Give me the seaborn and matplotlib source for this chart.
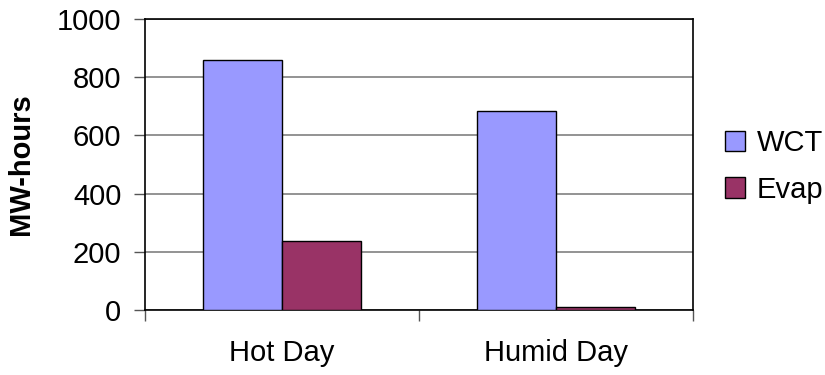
import matplotlib
matplotlib.use("Agg")
import matplotlib.pyplot as plt
import seaborn as sns
import pandas as pd
from matplotlib.patches import Patch

# Energy lost per scenario, in MW-hours
days = ["Hot Day", "Humid Day"]
wct = [860, 683]
evap = [238, 10]
series = ["WCT", "Evap"]
colors = {"WCT": "#9999FF", "Evap": "#993366"}
y_ticks = [0, 200, 400, 600, 800, 1000]

df = pd.DataFrame({
    "day": days * 2,
    "series": ["WCT"] * len(days) + ["Evap"] * len(days),
    "value": wct + evap,
})

sns.set_style("white")
plt.rcParams["font.family"] = ["Liberation Sans", "DejaVu Sans"]
plt.rcParams["text.color"] = "black"
plt.rcParams["axes.labelcolor"] = "black"
plt.rcParams["xtick.color"] = "black"
plt.rcParams["ytick.color"] = "black"

FS = 21

fig = plt.figure(figsize=(8.25, 3.75), dpi=100)
ax = fig.add_axes([145 / 825, 1 - 310 / 375, (693 - 145) / 825, (310 - 19) / 375])

sns.barplot(data=df, x="day", y="value", hue="series", order=days,
            hue_order=series, palette=colors, width=0.575,
            edgecolor="black", linewidth=1, saturation=1,
            legend=False, ax=ax, zorder=3)

ax.set_xlim(-0.5, len(days) - 0.5)
ax.set_ylim(0, 1000)
ax.set_yticks(y_ticks)
ax.set_yticklabels([str(v) for v in y_ticks], fontsize=FS)
ax.yaxis.grid(True, color="#808080", linewidth=1.2, zorder=0)
ax.set_axisbelow(True)

# Category boundaries carry the tick marks; names sit between them
ax.set_xticks([i - 0.5 for i in range(len(days) + 1)])
ax.set_xticklabels([])
ax.set_xticks(range(len(days)), minor=True)
ax.set_xticklabels(days, minor=True, fontsize=FS)
ax.tick_params(axis="x", which="minor", length=0, pad=21)
ax.tick_params(axis="x", which="major", direction="out", length=8,
               width=1, color="#555555", bottom=True)
ax.tick_params(axis="y", direction="out", length=8, width=1,
               color="#555555", left=True, pad=9)

ax.set_xlabel("")
ax.set_ylabel("MW-hours", fontsize=FS, fontweight="bold")
ax.yaxis.set_label_coords(-0.200, 0.5)

for s in ax.spines.values():
    s.set_visible(True)
    s.set_color("black")
    s.set_linewidth(1.2)

handles = [Patch(facecolor=colors[s], edgecolor="black", linewidth=1) for s in series]
fig.legend(handles, series, loc="center left",
           bbox_to_anchor=(725 / 825, 1 - 166.5 / 375),
           frameon=False, fontsize=FS, handlelength=0.7, handleheight=0.7,
           handletextpad=0.4, labelspacing=0.62, borderpad=0, borderaxespad=0)

fig.savefig("out.png", dpi=100)
